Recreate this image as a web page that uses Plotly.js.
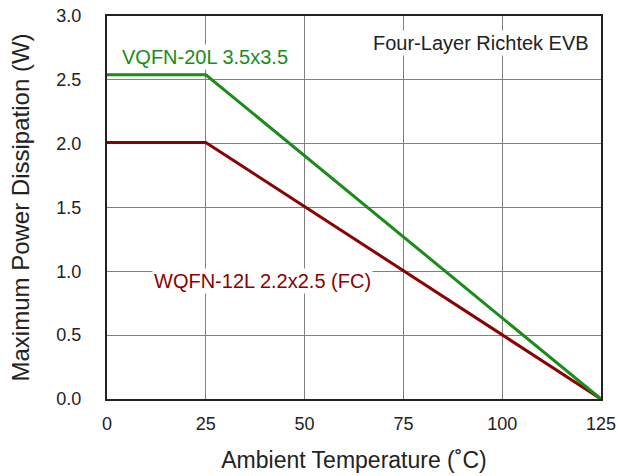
<!DOCTYPE html>
<html><head><meta charset="utf-8">
<script src="https://cdn.plot.ly/plotly-3.0.1.min.js"></script>
<style>html,body{margin:0;padding:0;background:#fff}#c{width:618px;height:476px}</style>
</head><body><div id="c"></div>
<script>
const temps = [0, 25, 125];
const vqfn = [2.54, 2.54, 0];
const wqfn = [2.01, 2.01, 0];
const xTicks = [0, 25, 50, 75, 100, 125];
const yTicks = [0, 0.5, 1.0, 1.5, 2.0, 2.5, 3.0];
const yTickText = yTicks.map(v => v.toFixed(1));

const traces = [
  {x: temps, y: wqfn, mode: 'lines', line: {color: '#8b0000', width: 3}, name: 'WQFN-12L 2.2x2.5 (FC)'},
  {x: temps, y: vqfn, mode: 'lines', line: {color: '#1a8c1a', width: 3}, name: 'VQFN-20L 3.5x3.5'}
];
const font = {family: 'Liberation Sans, Arial, sans-serif', color: '#222'};
const layout = {
  width: 618, height: 476,
  margin: {l: 107, r: 17, t: 16, b: 77},
  showlegend: false,
  paper_bgcolor: '#fff', plot_bgcolor: '#fff',
  font: Object.assign({size: 18}, font),
  xaxis: {
    range: [0, 125], tickvals: xTicks, ticktext: xTicks.map(String),
    showgrid: true, gridcolor: '#808080', gridwidth: 1,
    showline: true, linecolor: '#222', linewidth: 2, mirror: true,
    zeroline: false, ticks: '', ticklabelstandoff: 7,
    tickfont: {size: 18},
    title: {text: 'Ambient Temperature (˚C)', font: {size: 23}, standoff: 19}
  },
  yaxis: {
    range: [0, 3], tickvals: yTicks, ticktext: yTickText,
    showgrid: true, gridcolor: '#808080', gridwidth: 1,
    showline: true, linecolor: '#222', linewidth: 2, mirror: true,
    zeroline: false, ticks: 'outside', ticklen: 20, tickcolor: 'rgba(0,0,0,0)',
    tickfont: {size: 18},
    title: {text: 'Maximum Power Dissipation (W)', font: {size: 24}, standoff: 20}
  },
  annotations: [
    {x: 0, y: 2.68, xref: 'x', yref: 'y', xanchor: 'left', yanchor: 'middle', text: 'VQFN-20L 3.5x3.5',
     showarrow: false, font: {size: 20, color: '#1a8c1a'}, bgcolor: '#fff', borderpad: 1, xshift: 13},
    {x: 11.3, y: 0.925, xref: 'x', yref: 'y', xanchor: 'left', yanchor: 'middle', text: 'WQFN-12L 2.2x2.5 (FC)',
     showarrow: false, font: {size: 20, color: '#8b0000'}, bgcolor: '#fff', borderpad: 1},
    {x: 1, y: 2.79, xref: 'paper', yref: 'y', xanchor: 'right', yanchor: 'middle', text: 'Four-Layer Richtek EVB',
     showarrow: false, font: {size: 20, color: '#222'}, bgcolor: '#fff', borderpad: 1, xshift: -10}
  ]
};
Plotly.newPlot('c', traces, layout, {displayModeBar: false, staticPlot: true});
</script></body></html>
